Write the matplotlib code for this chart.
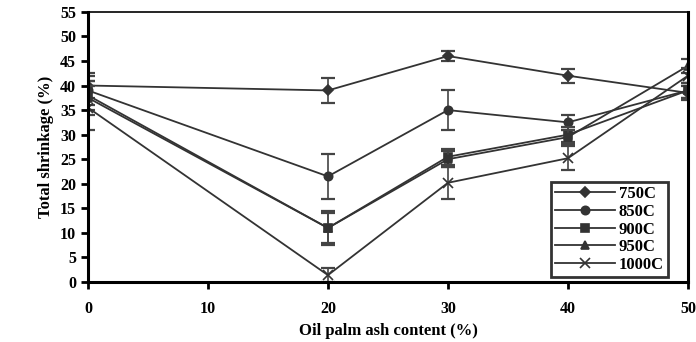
import numpy as np
import matplotlib
matplotlib.use('Agg')
import matplotlib.pyplot as plt

plt.rcParams['font.family'] = ['Liberation Serif', 'DejaVu Serif']
plt.rcParams['font.weight'] = 'bold'

# oil palm ash content (%)
ash = [0, 20, 30, 40, 50]

labels = ['750C', '850C', '900C', '950C', '1000C']
markers = ['D', 'o', 's', '^', 'x']
msizes = [5, 6, 6, 6, 7]

s750 = [40.0, 39.0, 46.0, 42.0, 38.5]
s850 = [39.0, 21.5, 35.0, 32.5, 39.0]
s900 = [38.0, 11.0, 25.5, 30.0, 39.0]
s950 = [37.5, 11.0, 25.0, 29.5, 44.0]
s1000 = [35.5, 1.4, 20.2, 25.2, 42.0]

# error bar half widths
e750 = [2.5, 2.5, 1.0, 1.4, 1.5]
e850 = [3.0, 4.5, 4.0, 1.5, 1.5]
e900 = [3.0, 3.5, 1.6, 1.5, 1.5]
e950 = [3.5, 3.0, 1.6, 1.5, 1.5]
e1000 = [4.5, 1.4, 3.3, 2.4, 1.5]

series = [s750, s850, s900, s950, s1000]
errs = [e750, e850, e900, e950, e1000]

fig = plt.figure(figsize=(6.96, 3.42), dpi=100)
ax = fig.add_axes([0.1264, 0.1754, 0.862, 0.79])

handles = []
for vs, es, lab, mk, ms in zip(series, errs, labels, markers, msizes):
    ax.errorbar(ash, vs, yerr=es, fmt='none', ecolor='#444444',
                elinewidth=1.2, capsize=5, capthick=1.6)
    h, = ax.plot(ash, vs, color='#333333', lw=1.3, marker=mk, ms=ms,
                 mew=1.2, mfc='#333333', mec='#333333', label=lab)
    handles.append(h)

ax.set_xlim(0, 50)
ax.set_ylim(0, 55)
ax.set_xticks([0, 10, 20, 30, 40, 50])
ax.set_yticks(range(0, 56, 5))
ax.tick_params(axis='both', direction='out', width=2, length=5, labelsize=11.5)
ax.tick_params(axis='x', pad=9)
for lbl in ax.get_xticklabels() + ax.get_yticklabels():
    lbl.set_fontweight('bold')
for side in ('left', 'bottom', 'right'):
    ax.spines[side].set_linewidth(2.2)
ax.spines['top'].set_linewidth(1.2)

ax.set_ylabel('Total shrinkage (%)', fontsize=12, fontweight='bold', labelpad=4)
ax.set_xlabel('Oil palm ash content (%)', fontsize=12, fontweight='bold', labelpad=4)

leg = ax.legend(handles=handles, loc='lower right', bbox_to_anchor=(0.975, 0.0),
                fontsize=12, frameon=True, fancybox=False, edgecolor='black',
                handlelength=3.6, borderpad=0.25, labelspacing=0.1,
                handletextpad=0.2, borderaxespad=0.3)
leg.get_frame().set_linewidth(2)
for t in leg.get_texts():
    t.set_fontweight('bold')

fig.savefig('out.png', dpi=100)
